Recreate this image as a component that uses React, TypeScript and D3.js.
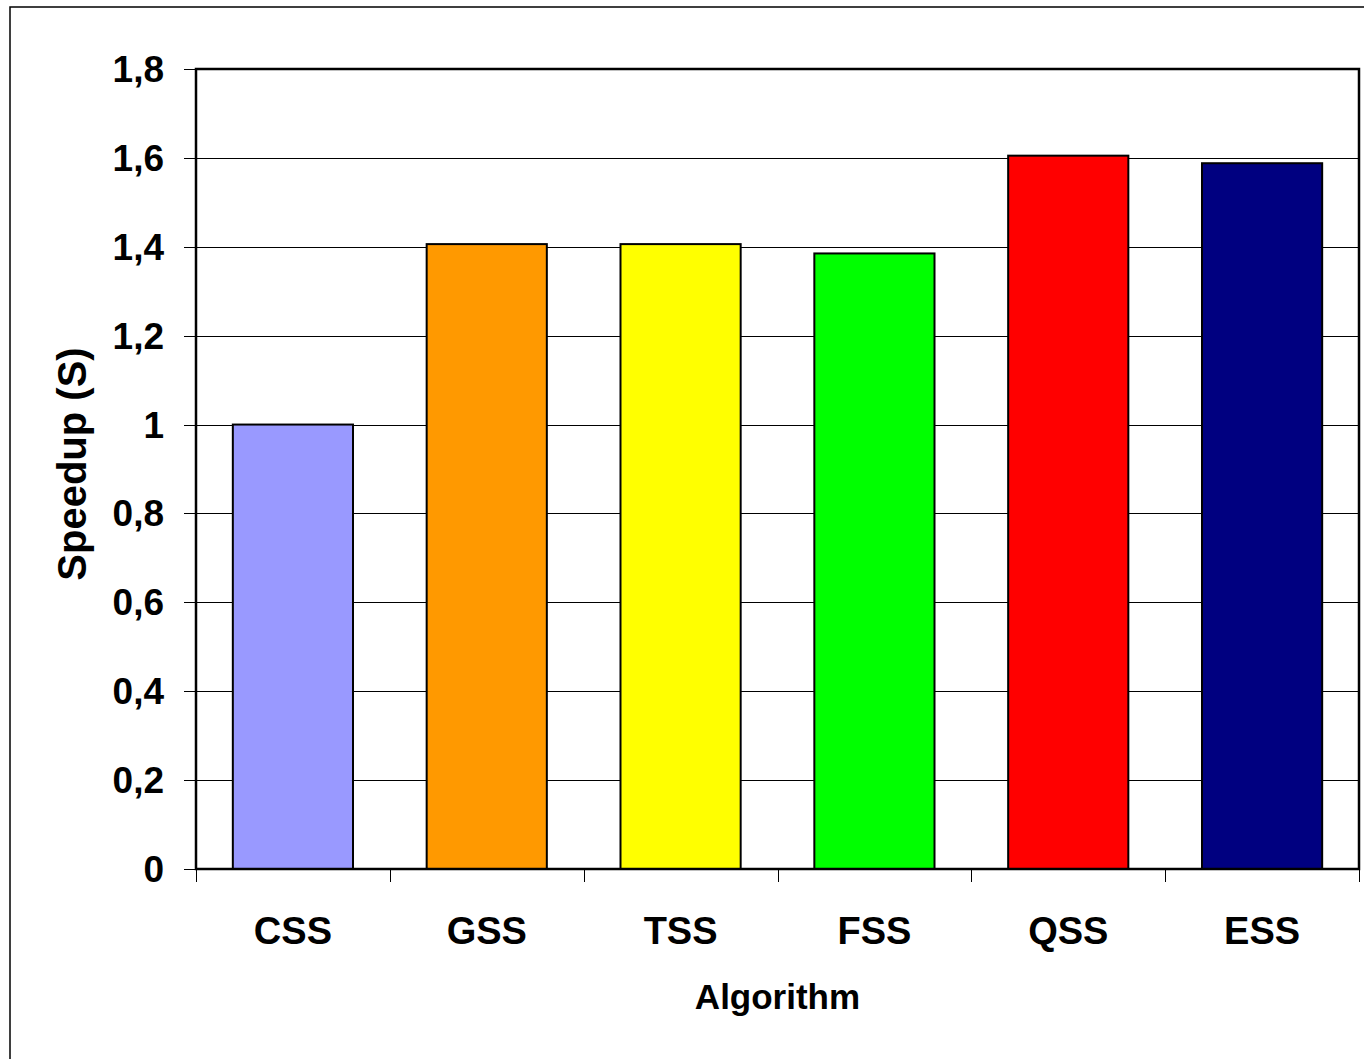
import React from "react";
import * as d3 from "d3";

// Speedup of each scheduling algorithm (CSS as the baseline)
const algorithms: string[] = ["CSS", "GSS", "TSS", "FSS", "QSS", "ESS"];
const speedups: number[] = [1.0, 1.406, 1.406, 1.385, 1.605, 1.588];
const barColors: string[] = ["#9999FF", "#FF9900", "#FFFF00", "#00FF00", "#FF0000", "#000080"];
const yTicks: number[] = [0, 0.2, 0.4, 0.6, 0.8, 1, 1.2, 1.4, 1.6, 1.8];
const yTickLabels: string[] = ["0", "0,2", "0,4", "0,6", "0,8", "1", "1,2", "1,4", "1,6", "1,8"];

const W = 1364;
const H = 1059;
const plot = { left: 196, right: 1359, top: 69, bottom: 869 };
const FONT = "'Liberation Sans', Arial, Helvetica, sans-serif";

export default function App() {
  const x = d3
    .scaleBand<string>()
    .domain(algorithms)
    .range([plot.left, plot.right])
    .paddingInner(0.38)
    .paddingOuter(0.19);

  const y = d3.scaleLinear().domain([0, 1.8]).range([plot.bottom, plot.top]);

  const step = x.step();
  const boundaries = d3.range(algorithms.length + 1).map((i) => plot.left + i * step);

  return (
    <svg
      width={W}
      height={H}
      viewBox={`0 0 ${W} ${H}`}
      style={{ position: "absolute", left: 0, top: 0, background: "#fff" }}
      fontFamily={FONT}
      fontWeight="bold"
    >
      {/* chart frame */}
      <rect x={10} y={7} width={W + 20} height={H + 20} fill="#fff" stroke="#000" strokeWidth={1.5} />

      {/* horizontal gridlines */}
      {yTicks.map((t) => (
        <line
          key={`g${t}`}
          x1={plot.left}
          x2={plot.right}
          y1={Math.round(y(t)) + 0.5}
          y2={Math.round(y(t)) + 0.5}
          stroke="#000"
          strokeWidth={1}
        />
      ))}

      {/* bars */}
      {algorithms.map((a, i) => (
        <rect
          key={a}
          x={x(a)}
          y={y(speedups[i])}
          width={x.bandwidth()}
          height={y(0) - y(speedups[i])}
          fill={barColors[i]}
          stroke="#000"
          strokeWidth={2}
        />
      ))}

      {/* plot area border */}
      <rect
        x={plot.left}
        y={plot.top}
        width={plot.right - plot.left}
        height={plot.bottom - plot.top}
        fill="none"
        stroke="#000"
        strokeWidth={2.5}
      />

      {/* y axis ticks and labels */}
      {yTicks.map((t, i) => (
        <g key={`t${t}`}>
          <line
            x1={plot.left - 12}
            x2={plot.left}
            y1={Math.round(y(t)) + 0.5}
            y2={Math.round(y(t)) + 0.5}
            stroke="#000"
            strokeWidth={1}
          />
          <text x={164} y={y(t) + 13} textAnchor="end" fontSize={37} fill="#000">
            {yTickLabels[i]}
          </text>
        </g>
      ))}

      {/* x axis ticks */}
      {boundaries.map((bx, i) => (
        <line
          key={`xb${i}`}
          x1={Math.round(bx) + 0.5}
          x2={Math.round(bx) + 0.5}
          y1={plot.bottom}
          y2={plot.bottom + 13}
          stroke="#000"
          strokeWidth={1}
        />
      ))}

      {/* category labels */}
      {algorithms.map((a) => (
        <text
          key={`l${a}`}
          x={(x(a) as number) + x.bandwidth() / 2}
          y={944}
          textAnchor="middle"
          fontSize={38}
          fill="#000"
        >
          {a}
        </text>
      ))}

      {/* axis titles */}
      <text x={(plot.left + plot.right) / 2} y={1009} textAnchor="middle" fontSize={35} fill="#000">
        Algorithm
      </text>
      <text
        transform={`translate(86, 464) rotate(-90)`}
        textAnchor="middle"
        fontSize={40}
        fill="#000"
      >
        Speedup (S)
      </text>
    </svg>
  );
}
